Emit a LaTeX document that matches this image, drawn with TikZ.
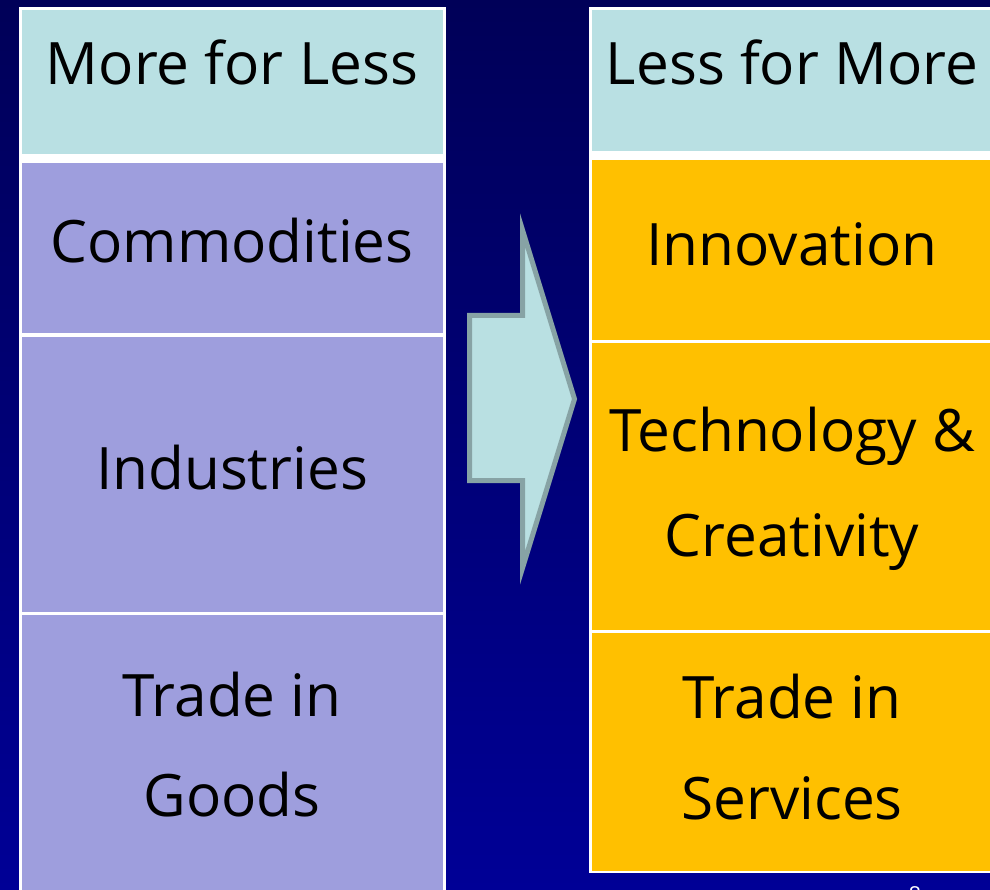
\documentclass[tikz,border=0pt]{standalone}
\usepackage{fontspec}
\setmainfont{Open Sans}
\definecolor{bgtop}{RGB}{0,0,88}
\definecolor{bgbot}{RGB}{0,0,150}
\definecolor{headc}{HTML}{B9E0E3}
\definecolor{lavc}{HTML}{9E9EDD}
\definecolor{orac}{HTML}{FFC000}
\definecolor{arrfill}{HTML}{B9E0E2}
\definecolor{arrline}{HTML}{87A3A5}
\tikzset{
  cell/.style={inner sep=0pt, outer sep=0pt, anchor=north west},
  label/.style={inner sep=0pt, anchor=base, text=black, font=\fontsize{58.5}{70}\selectfont},
}
\begin{document}
\begin{tikzpicture}[x=1pt,y=-1pt]
\useasboundingbox (0,0) rectangle (990,890);
\fill[top color=bgtop,bottom color=bgbot] (0,0) rectangle (990,890);
% left table
\fill[white] (19,7) rectangle (446,900);
\fill[headc] (22,10) rectangle (443,154);
\fill[lavc] (22,163) rectangle (443,333);
\fill[lavc] (22,337) rectangle (443,612);
\fill[lavc] (22,615) rectangle (443,900);
% right table
\fill[white] (589,7) rectangle (1000,873);
\fill[headc] (592,10) rectangle (1000,151);
\fill[orac] (592,160) rectangle (1000,340);
\fill[orac] (592,343) rectangle (1000,630);
\fill[orac] (592,633) rectangle (1000,871);
% arrow
\draw[fill=arrfill, draw=arrline, line width=5pt, line join=miter]
  (469.5,315.5) -- (522.5,315.5) -- (522.5,230) -- (574.5,399) -- (522.5,568)
  -- (522.5,480.5) -- (469.5,480.5) -- cycle;
% texts left
\node[label] (l0) at (232,85) {More for Less};
\node[label] (l1) at (232,263) {Commodities};
\node[label] (l2) at (232,489) {Industries};
\node[label] (l3a) at (232,716) {Trade in};
\node[label] (l3b) at (232,816) {Goods};
% texts right
\node[label] (r0) at (792,85) {Less for More};
\node[label] (r1) at (792,266) {Innovation};
\node[label] (r2a) at (792,451) {Technology \&};
\node[label] (r2b) at (792,556) {Creativity};
\node[label] (r3a) at (792,718) {Trade in};
\node[label] (r3b) at (792,819) {Services};
% slide number (cut off at the bottom edge, as in the reference)
\node[inner sep=0pt, anchor=base, text=white, font=\fontsize{22}{26}\selectfont] (pn) at (915,902) {8};
\end{tikzpicture}
\end{document}
